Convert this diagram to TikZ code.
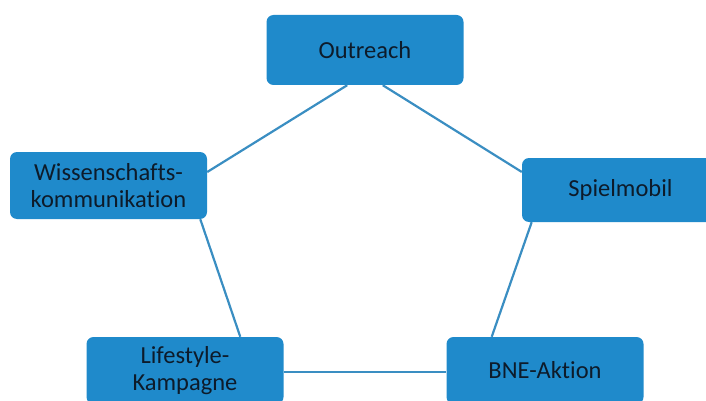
\documentclass[tikz,border=0pt]{standalone}
\usepackage{fontspec}
\setmainfont[Ligatures=NoCommon]{Carlito}
\usetikzlibrary{calc}
\definecolor{boxfill}{HTML}{1F8ACB}
\definecolor{linecol}{HTML}{3A8EC2}
\definecolor{txtcol}{HTML}{0D1B2A}
\tikzset{
  topic/.style={draw=none, fill=boxfill, rounded corners=7pt, minimum width=197pt,
    text=txtcol, align=center, inner sep=0pt,
    font=\fontsize{24.5}{27}\selectfont},
  link/.style={draw=linecol, line width=2.2pt}
}
\begin{document}
\begin{tikzpicture}[x=1pt,y=-1pt]
\useasboundingbox (0,0) rectangle (706,401);
\clip (0,0) rectangle (706,401);
\node[topic, minimum height=70pt] (outreach) at (365,50) {Outreach};
\node[topic, minimum height=67pt] (wiss) at (108.5,185.5) {Wissenschafts-\\kommunikation};
\node[topic, minimum height=64pt] (spiel) at (620.5,190) {Spielmobil};
\node[topic, minimum height=67pt] (life) at (185,370.5) {Lifestyle-\\Kampagne};
\node[topic, minimum height=67pt] (bne) at (545,370.5) {BNE-Aktion};
\draw[link] ($(outreach.south west)!0.41!(outreach.south east)$) -- ($(wiss.north east)!0.3!(wiss.south east)$);
\draw[link] ($(outreach.south west)!0.59!(outreach.south east)$) -- ($(spiel.north west)!0.22!(spiel.south west)$);
\draw[link] ($(wiss.south west)!0.965!(wiss.south east)$) -- ($(life.north west)!0.78!(life.north east)$);
\draw[link] ($(spiel.south west)!0.05!(spiel.south east)$) -- ($(bne.north west)!0.23!(bne.north east)$);
\draw[link] ($(life.north east)!0.52!(life.south east)$) -- ($(bne.north west)!0.52!(bne.south west)$);
\end{tikzpicture}
\end{document}
